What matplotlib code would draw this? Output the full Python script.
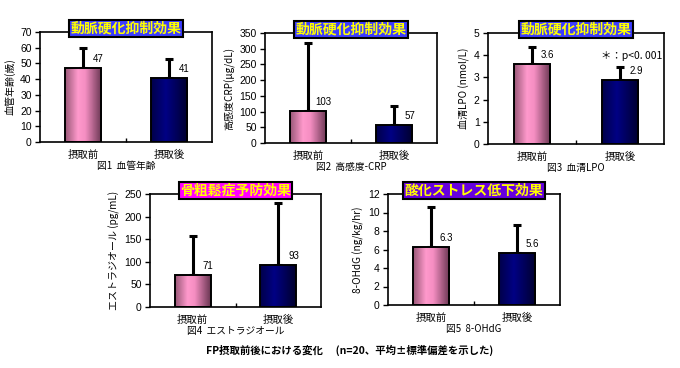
import numpy as np
import matplotlib
matplotlib.use('Agg')
import matplotlib.pyplot as plt
from matplotlib.colors import LinearSegmentedColormap

plt.rcParams['font.family'] = ['Noto Sans CJK JP', 'DejaVu Sans']

# data
categories = ['摂取前', '摂取後']

age_mean = [47, 41]
age_sd = [13, 12]
crp_mean = [103, 57]
crp_sd = [215, 62]
lpo_mean = [3.6, 2.9]
lpo_sd = [0.75, 0.55]
e2_mean = [71, 93]
e2_sd = [86, 138]
ohdg_mean = [6.3, 5.6]
ohdg_sd = [4.3, 3.05]

age_labels = ['47', '41']
crp_labels = ['103', '57']
lpo_labels = ['3.6', '2.9']
e2_labels = ['71', '93']
ohdg_labels = ['6.3', '5.6']

W, H = 680, 368
fig = plt.figure(figsize=(W / 100, H / 100), dpi=100)

pink = LinearSegmentedColormap.from_list(
    'pink', [(0, '#9a5878'), (0.35, '#ff99cc'), (0.55, '#f58ec2'), (1, '#6a3652')])
navy = LinearSegmentedColormap.from_list(
    'navy', [(0, '#00004a'), (0.4, '#000084'), (1, '#00002e')])


def px_axes(left, right, top, bottom):
    return fig.add_axes([left / W, 1 - bottom / H, (right - left) / W, (bottom - top) / H])


def panel(ax, means, sds, labels, ymax, step, ylabel, title, boxcolor, caption):
    x = np.arange(len(categories))
    bars = ax.bar(x, means, width=0.42, facecolor='none', edgecolor='black',
                  linewidth=1.4, zorder=3)
    # cylinder-like shading inside each bar
    for b, cmap in zip(bars, [pink, navy]):
        x0, y0 = b.get_x(), b.get_y()
        grad = np.linspace(0, 1, 64).reshape(1, -1)
        im = ax.imshow(grad, cmap=cmap, extent=[x0, x0 + b.get_width(), y0, y0 + b.get_height()],
                       aspect='auto', zorder=2, interpolation='bilinear')
        im.set_clip_path(b)
    ax.errorbar(x, means, yerr=[np.zeros(len(sds)), sds], fmt='none', ecolor='black',
                elinewidth=2.2, capsize=2.6, capthick=2.2, zorder=1)
    for xi, m, lab in zip(x, means, labels):
        ax.annotate(lab, (xi + 0.18, m), xytext=(0, 6.5), textcoords='offset points',
                    ha='center', va='center', fontsize=7, family='Liberation Sans')
    ax.set_xlim(-0.5, 1.5)
    ax.set_ylim(0, ymax)
    ax.set_aspect('auto')
    ticks = np.arange(0, ymax + step / 2, step)
    ax.set_yticks(ticks)
    ax.set_yticklabels(['{:g}'.format(v) for v in ticks], fontsize=7.5, family='Liberation Sans')
    ax.tick_params(axis='y', length=3.5, width=1, pad=2.5)
    ax.set_xticks(x)
    ax.set_xticklabels(categories, fontsize=7.5)
    ax.tick_params(axis='x', length=0, pad=5.5)
    ax.set_xticks([0.5], minor=True)
    ax.tick_params(axis='x', which='minor', direction='in', length=3, width=1)
    for s in ax.spines.values():
        s.set_linewidth(1.2)
    ax.set_ylabel(ylabel, fontsize=7.2, labelpad=3)
    ax.text(0.5, 1.03, title, transform=ax.transAxes, ha='center', va='center',
            fontsize=10, fontweight='bold', color='#ffff00', zorder=10, clip_on=False,
            bbox=dict(boxstyle='square,pad=0.1', facecolor=boxcolor, edgecolor='black',
                      linewidth=1.5))
    pos = ax.get_position()
    fig.text(pos.x0 + pos.width / 2, pos.y0 - 24 / H, caption, ha='center', va='center',
             fontsize=7)


ax1 = px_axes(40, 212, 32, 142)
panel(ax1, age_mean, age_sd, age_labels, 70, 10, '血管年齢(歳)', '動脈硬化抑制効果',
      '#3c3cff', '図1  血管年齢')

ax2 = px_axes(265, 437, 33, 143)
panel(ax2, crp_mean, crp_sd, crp_labels, 350, 50, '高感度CRP(μg/dL)', '動脈硬化抑制効果',
      '#3c3cff', '図2  高感度-CRP')

ax3 = px_axes(488, 664, 33, 144)
panel(ax3, lpo_mean, lpo_sd, lpo_labels, 5, 1, '血清LPO (nmol/L)', '動脈硬化抑制効果',
      '#3c3cff', '図3  血清LPO')
ax3.text(1.13, 3.95, '＊：p<0. 001', ha='center', va='center', fontsize=7.5)

ax4 = px_axes(150, 321, 194, 307)
panel(ax4, e2_mean, e2_sd, e2_labels, 250, 50, 'エストラジオール (pg/mL)', '骨粗鬆症予防効果',
      '#ff00ff', '図4  エストラジオール')

ax5 = px_axes(388, 560, 194, 305)
panel(ax5, ohdg_mean, ohdg_sd, ohdg_labels, 12, 2, '8-OHdG (ng/kg/hr)', '酸化ストレス低下効果',
      '#6600dd', '図5  8-OHdG')

fig.text(350 / W, 1 - 350 / H, 'FP摂取前後における変化　 (n=20、平均±標準偏差を示した)',
         ha='center', va='center', fontsize=7.5, fontweight='bold')

fig.savefig('out.png', dpi=100, facecolor='white')
